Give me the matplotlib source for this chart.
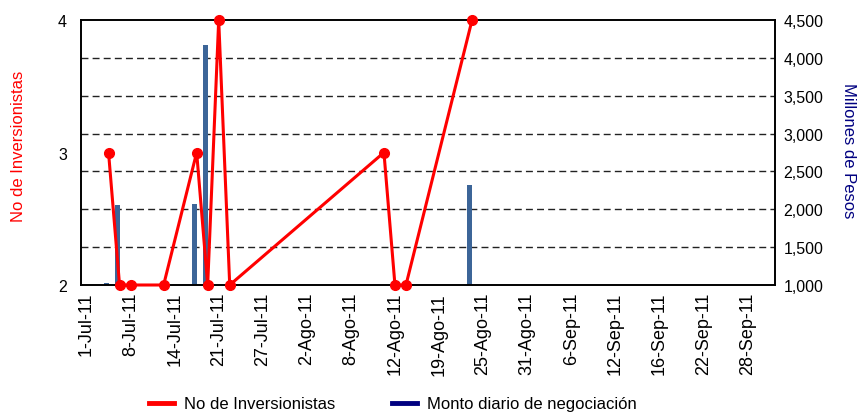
import matplotlib
matplotlib.use("Agg")
import matplotlib.pyplot as plt
from matplotlib.lines import Line2D
import numpy as np
import pandas as pd

plt.rcParams['font.family'] = ['Liberation Sans', 'DejaVu Sans']

# trading days Jul-Sep 2011 (Colombian holidays removed)
holidays = ["2011-07-04", "2011-07-20", "2011-08-15"]
days = pd.bdate_range("2011-07-01", "2011-09-30")
days = days[~days.isin(pd.to_datetime(holidays))]

tick_labels = ["1-Jul-11", "8-Jul-11", "14-Jul-11", "21-Jul-11", "27-Jul-11",
               "2-Ago-11", "8-Ago-11", "12-Ago-11", "19-Ago-11", "25-Ago-11",
               "31-Ago-11", "6-Sep-11", "12-Sep-11", "16-Sep-11", "22-Sep-11",
               "28-Sep-11"]

inv_dates = ["2011-07-06", "2011-07-07", "2011-07-08", "2011-07-13", "2011-07-18",
             "2011-07-19", "2011-07-21", "2011-07-22", "2011-08-11", "2011-08-12",
             "2011-08-16", "2011-08-24"]
inversionistas = [3, 2, 2, 2, 3, 2, 4, 2, 3, 2, 2, 4]

monto_dates = ["2011-07-06", "2011-07-07", "2011-07-18", "2011-07-19", "2011-08-24"]
monto = [1030, 2060, 2070, 4170, 2320]

inv_x = [days.get_loc(pd.Timestamp(d)) for d in inv_dates]
monto_x = [days.get_loc(pd.Timestamp(d)) for d in monto_dates]

fig = plt.figure(figsize=(8.57, 4.14), dpi=100)
ax = fig.add_axes([81/857, 1-286/414, 694/857, 265/414])
ax2 = ax.twinx()

# bars on the right axis (millions of pesos)
ax2.bar(np.array(monto_x) - 0.2, np.array(monto) - 1000, bottom=1000, width=0.45,
        color='#3C6598', zorder=2)
ax2.set_ylim(1000, 4500)
ax2.set_yticks(np.arange(1000, 4501, 500))
ax2.set_yticklabels([f"{v:,}" for v in range(1000, 4501, 500)])
for v in range(1500, 4001, 500):
    ax2.axhline(v, color='#222222', lw=1, ls=(0, (5, 3)), zorder=1)
ax2.set_ylabel("Millones de Pesos", color='#000080', fontsize=12, rotation=270,
               va='center')
ax2.yaxis.set_label_coords(1.106, 0.51)
ax2.tick_params(axis='y', labelsize=11.5, length=0, pad=6)

# line on the left axis
ax.set_zorder(ax2.get_zorder() + 1)
ax.patch.set_visible(False)
ax.plot(inv_x, inversionistas, color='#FF0000', lw=2.2, marker='o', ms=7,
        clip_on=False, zorder=3)
ax.set_ylim(2, 4)
ax.set_yticks([2, 3, 4])
ax.set_ylabel("No de Inversionistas", color='#FF0000', fontsize=12, va='center')
ax.yaxis.set_label_coords(-0.09, 0.525)
ax.tick_params(axis='y', labelsize=11.5, length=0, pad=10)

ax.set_xlim(-0.5, len(days) - 0.5)
ax.set_xticks(np.arange(0, len(days), 4))
ax.set_xticklabels(tick_labels, rotation=90, fontsize=13)
ax.tick_params(axis='x', length=0, pad=5)

for a in (ax, ax2):
    for s in a.spines.values():
        s.set_linewidth(1.2)

handles = [Line2D([0], [0], color='#FF0000', lw=3.5),
           Line2D([0], [0], color='#000080', lw=3.5)]
fig.legend(handles, ["No de Inversionistas", "Monto diario de negociación"],
           loc='center', bbox_to_anchor=(0.458, 0.022), ncol=2, frameon=False,
           fontsize=12, handlelength=1.5, columnspacing=3.4, handletextpad=0.6)

fig.savefig("out.png", dpi=100)
